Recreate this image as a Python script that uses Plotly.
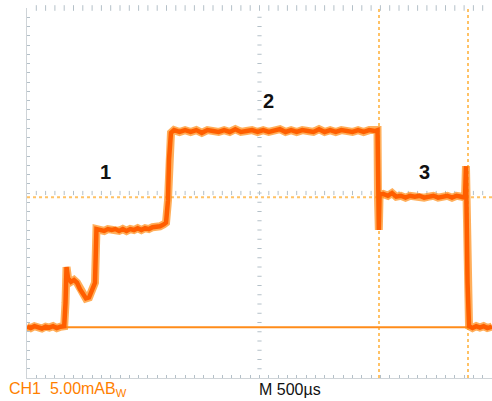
import plotly.graph_objects as go

# Oscilloscope capture: time in microseconds (500 us/div), current in mA (5 mA/div)
t_us = [0, 40, 80, 120, 160, 200, 240, 280, 320, 360, 400,
        414, 425, 441, 473, 505, 538, 570, 602, 634, 667, 699, 731,
        747, 785, 830, 870, 910, 950, 990, 1030, 1070, 1110, 1150, 1190,
        1230, 1270, 1310, 1350, 1390, 1430, 1470, 1495,
        1516, 1527, 1548, 1581, 1640, 1700, 1760, 1820, 1880, 1940, 2000,
        2060, 2120, 2180, 2240, 2300, 2360, 2420, 2480, 2540, 2600, 2660,
        2720, 2780, 2840, 2900, 2960, 3020, 3080, 3140, 3200, 3260, 3320,
        3380, 3440, 3500, 3560, 3620, 3680, 3740, 3769,
        3774, 3783, 3791, 3830, 3880, 3925, 3970, 4020, 4070, 4120, 4170,
        4220, 4270, 4320, 4370, 4420, 4470, 4520, 4570, 4620, 4670, 4710,
        4720, 4726, 4737, 4753, 4790, 4830, 4870, 4910, 4950, 5000]
i_mA = [0.05, -0.1, 0.1, 0.0, -0.15, 0.05, -0.05, 0.1, -0.1, 0.05, 0.1,
        2.6, 6.5, 5.3, 4.9, 5.1, 4.8, 4.1, 3.5, 3.1, 3.2, 4.0, 4.8,
        10.6, 10.5, 10.4, 10.6, 10.5, 10.6, 10.4, 10.6, 10.4, 10.6, 10.5, 10.7,
        10.5, 10.7, 10.6, 10.8, 10.8, 10.9, 11.1, 11.3,
        13.7, 18.1, 21.0, 21.3, 21.1, 21.3, 21.1, 21.3, 21.0, 21.3, 21.2,
        21.1, 21.3, 21.1, 21.4, 21.1, 21.2, 21.3, 21.1, 21.3, 21.1, 21.2,
        21.4, 21.1, 21.3, 21.1, 21.3, 21.2, 21.1, 21.4, 21.1, 21.3, 21.1,
        21.3, 21.2, 21.1, 21.3, 21.1, 21.3, 21.2, 21.3,
        14.1, 10.5, 14.3, 14.4, 14.2, 14.5, 14.1, 14.2, 14.0, 14.2, 14.1,
        14.2, 14.0, 14.1, 14.2, 14.0, 14.1, 14.2, 14.0, 14.2, 14.1, 14.0,
        17.4, 11.6, 4.8, 0.1, -0.1, 0.1, -0.05, 0.1, -0.1, 0.05]

# Reference / cursor values
ref_level_mA = 0.0
ref_start_us = 420
cursor_h_mA = 14.05
cursor_v_us = [3785, 4742]

labels = ["1", "2", "3"]
label_t = [839, 2602, 4269]
label_i = [16.8, 24.4, 16.8]

X_RANGE = [0, 5000]
Y_RANGE = [-5.5, 34.5]
GRID = "#b4c0c8"

fig = go.Figure()

# graticule dots: top edge and center cross
top_x = [v for v in range(100, 5000, 100)]
fig.add_trace(go.Scatter(x=top_x, y=[Y_RANGE[1]] * len(top_x), mode="markers",
                         marker=dict(symbol="line-ns-open", size=4, color=GRID,
                                     line=dict(color=GRID, width=1)),
                         hoverinfo="skip", cliponaxis=False, showlegend=False))
fig.add_trace(go.Scatter(x=top_x, y=[14.5] * len(top_x), mode="markers",
                         marker=dict(symbol="line-ns-open", size=3, color=GRID,
                                     line=dict(color=GRID, width=1)),
                         hoverinfo="skip", showlegend=False))
cy = [Y_RANGE[0] + k for k in range(1, 40)]
fig.add_trace(go.Scatter(x=[2500] * len(cy), y=cy, mode="markers",
                         marker=dict(symbol="line-ew-open", size=3, color=GRID,
                                     line=dict(color=GRID, width=1)),
                         hoverinfo="skip", showlegend=False))

# cursors
fig.add_trace(go.Scatter(x=X_RANGE, y=[cursor_h_mA, cursor_h_mA], mode="lines",
                         line=dict(color="#FFC266", width=2, dash="dot"),
                         hoverinfo="skip", showlegend=False))
for cv in cursor_v_us:
    fig.add_trace(go.Scatter(x=[cv, cv], y=Y_RANGE, mode="lines",
                             line=dict(color="#FFC266", width=2, dash="dot"),
                             hoverinfo="skip", showlegend=False))

# reference line
fig.add_trace(go.Scatter(x=[ref_start_us, X_RANGE[1]], y=[ref_level_mA, ref_level_mA],
                         mode="lines", line=dict(color="#FF8C1A", width=2),
                         hoverinfo="skip", showlegend=False))

# waveform (halo + core)
fig.add_trace(go.Scatter(x=t_us, y=i_mA, mode="lines",
                         line=dict(color="rgba(255,140,20,0.7)", width=8),
                         hoverinfo="skip", showlegend=False))
fig.add_trace(go.Scatter(x=t_us, y=i_mA, mode="lines",
                         line=dict(color="#FF5E00", width=4.5),
                         showlegend=False))

for lb, lx, ly in zip(labels, label_t, label_i):
    fig.add_annotation(x=lx, y=ly, text="<b>%s</b>" % lb, showarrow=False,
                       font=dict(family="Liberation Sans, Arial", size=20, color="#111111"))

fig.add_annotation(xref="paper", yref="paper", x=-0.043, y=-0.03, xanchor="left", yanchor="middle",
                   text="CH1  5.00mAB<sub>W</sub>", showarrow=False,
                   font=dict(family="Liberation Sans, Arial", size=16, color="#FF7F00"))
fig.add_annotation(xref="paper", yref="paper", x=0.494, y=-0.03, xanchor="left", yanchor="middle",
                   text="M 500µs", showarrow=False,
                   font=dict(family="Liberation Sans, Arial", size=16, color="#111111"))

fig.update_layout(
    width=492, height=401,
    margin=dict(l=27, r=0, t=8, b=23),
    paper_bgcolor="white", plot_bgcolor="white",
    xaxis=dict(range=X_RANGE, showgrid=False, zeroline=False, showline=True,
               linecolor="#cfd4d8", linewidth=1, ticks="inside", tick0=0, dtick=100,
               ticklen=3, tickcolor=GRID, showticklabels=False, fixedrange=True),
    yaxis=dict(range=Y_RANGE, showgrid=False, zeroline=False, showline=True,
               linecolor="#cfd4d8", linewidth=1, ticks="inside", tick0=-5.5, dtick=1,
               ticklen=3, tickcolor=GRID, showticklabels=False, fixedrange=True),
)

fig.write_html("out.html", config={"displayModeBar": False},
               post_script="document.body.style.margin='0';document.body.style.overflow='hidden';")
